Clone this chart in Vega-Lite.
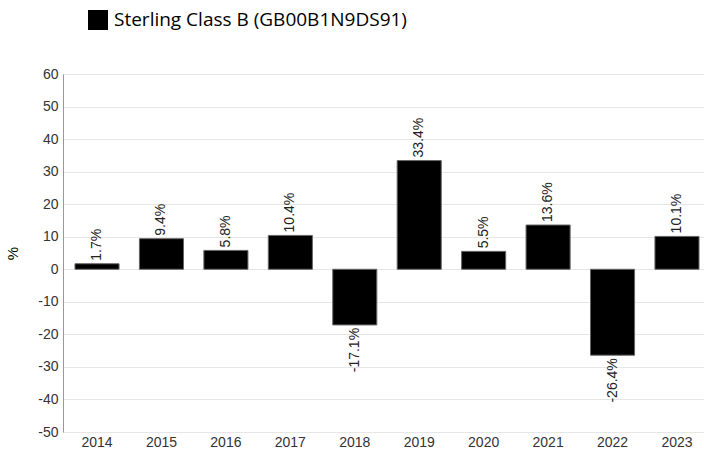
{
  "$schema": "https://vega.github.io/schema/vega-lite/v6.json",
  "autosize": {"type": "none"},
  "width": 648,
  "height": 358,
  "padding": {"left": 63, "top": 74, "right": 0, "bottom": 21},
  "background": "white",
  "data": {"values": [
    {"year": "2014", "value": 1.7, "series": "Sterling Class B (GB00B1N9DS91)"},
    {"year": "2015", "value": 9.4, "series": "Sterling Class B (GB00B1N9DS91)"},
    {"year": "2016", "value": 5.8, "series": "Sterling Class B (GB00B1N9DS91)"},
    {"year": "2017", "value": 10.4, "series": "Sterling Class B (GB00B1N9DS91)"},
    {"year": "2018", "value": -17.1, "series": "Sterling Class B (GB00B1N9DS91)"},
    {"year": "2019", "value": 33.4, "series": "Sterling Class B (GB00B1N9DS91)"},
    {"year": "2020", "value": 5.5, "series": "Sterling Class B (GB00B1N9DS91)"},
    {"year": "2021", "value": 13.6, "series": "Sterling Class B (GB00B1N9DS91)"},
    {"year": "2022", "value": -26.4, "series": "Sterling Class B (GB00B1N9DS91)"},
    {"year": "2023", "value": 10.1, "series": "Sterling Class B (GB00B1N9DS91)"}
  ]},
  "encoding": {
    "x": {
      "field": "year", "type": "nominal",
      "scale": {"paddingInner": 0.316, "paddingOuter": 0.186},
      "axis": {"title": null, "labelAngle": 0, "labelFont": "Liberation Sans", "labelFontSize": 14, "labelColor": "#333", "ticks": false, "domain": false, "labelPadding": 3}
    },
    "y": {
      "field": "value", "type": "quantitative",
      "scale": {"domain": [-50, 60], "nice": false},
      "axis": {"title": "%", "titleFont": "Liberation Sans", "titleFontSize": 15, "titleFontWeight": "normal", "titleColor": "#000", "titleAngle": -90, "titlePadding": 17, "values": [-50,-40,-30,-20,-10,0,10,20,30,40,50,60], "labelExpr": "toString(datum.value)", "labelFont": "Liberation Sans", "labelFontSize": 14, "labelColor": "#333", "ticks": false, "labelPadding": 5, "domainColor": "#999", "gridColor": "#e6e6e6"}
    }
  },
  "layer": [
    {
      "mark": {"type": "bar", "stroke": "#666", "strokeWidth": 1},
      "encoding": {
        "color": {
          "field": "series", "type": "nominal",
          "scale": {"range": ["#000000"]},
          "legend": {"title": null, "orient": "none", "legendX": 25, "legendY": -64, "symbolType": "square", "symbolSize": 400, "symbolStrokeWidth": 0, "labelFont": "Open Sans", "labelFontSize": 19, "labelColor": "#000", "labelOffset": 6, "labelLimit": 500}
        }
      }
    },
    {
      "transform": [{"filter": "datum.value >= 0"}, {"calculate": "toString(datum.value) + '%'", "as": "lbl"}],
      "mark": {"type": "text", "angle": 270, "align": "left", "baseline": "middle", "dx": 3, "font": "Liberation Sans", "fontSize": 14, "color": "#222"},
      "encoding": {"text": {"field": "lbl"}}
    },
    {
      "transform": [{"filter": "datum.value < 0"}, {"calculate": "toString(datum.value) + '%'", "as": "lbl"}],
      "mark": {"type": "text", "angle": 270, "align": "right", "baseline": "middle", "dx": -3, "font": "Liberation Sans", "fontSize": 14, "color": "#222"},
      "encoding": {"text": {"field": "lbl"}}
    }
  ]
}
